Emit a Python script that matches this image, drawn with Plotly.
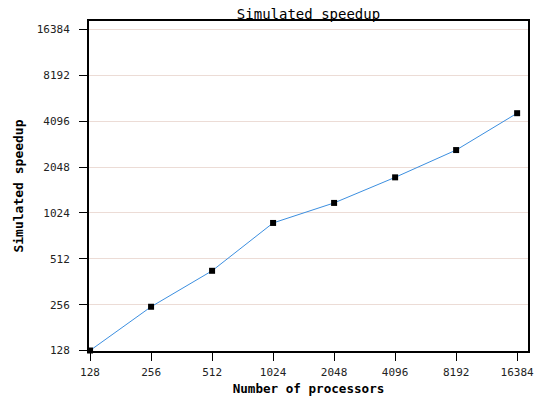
import plotly.graph_objects as go

# Processor counts and simulated speedup
processors = [128, 256, 512, 1024, 2048, 4096, 8192, 16384]
speedup = [128, 248, 427, 880, 1191, 1753, 2648, 4622]
tick_vals = [128, 256, 512, 1024, 2048, 4096, 8192, 16384]
tick_text = ["128", "256", "512", "1024", "2048", "4096", "8192", "16384"]

mono = "DejaVu Sans Mono"

fig = go.Figure(
    go.Scatter(
        x=processors,
        y=speedup,
        mode="lines+markers",
        line=dict(color="#3c8fe0", width=1),
        marker=dict(symbol="square", size=6, color="black"),
        cliponaxis=False,
    )
)

fig.update_layout(
    width=537,
    height=398,
    margin=dict(l=89, r=9, t=21, b=47),
    paper_bgcolor="white",
    plot_bgcolor="white",
    showlegend=False,
    title=dict(
        text="Simulated speedup",
        font=dict(family=mono, size=14, color="black"),
        x=0.5,
        xref="paper",
        y=1,
        yref="paper",
        yanchor="bottom",
        pad=dict(b=2),
    ),
)

fig.update_xaxes(
    type="log",
    range=[2.102, 4.268],
    automargin=False,
    tickvals=tick_vals,
    ticktext=tick_text,
    ticks="outside",
    ticklen=8,
    tickwidth=1,
    tickcolor="black",
    ticklabelstandoff=2,
    showgrid=False,
    zeroline=False,
    showline=True,
    linecolor="black",
    linewidth=2,
    mirror=True,
    tickfont=dict(family=mono, size=11, color="#222"),
    title=dict(
        text="<b>Number of processors</b>",
        font=dict(family=mono, size=12.6, color="black"),
        standoff=6,
    ),
)

fig.update_yaxes(
    type="log",
    range=[2.104, 4.270],
    automargin=False,
    tickvals=tick_vals,
    ticktext=tick_text,
    ticks="outside",
    ticklen=8,
    tickwidth=1,
    tickcolor="black",
    ticklabelstandoff=7,
    showgrid=True,
    gridcolor="#ecdcd6",
    gridwidth=1,
    zeroline=False,
    showline=True,
    linecolor="black",
    linewidth=2,
    mirror=True,
    tickfont=dict(family=mono, size=11, color="#222"),
    title=dict(
        text="<b>Simulated speedup</b>",
        font=dict(family=mono, size=13, color="black"),
        standoff=10,
    ),
)

fig.write_html("out.html")
